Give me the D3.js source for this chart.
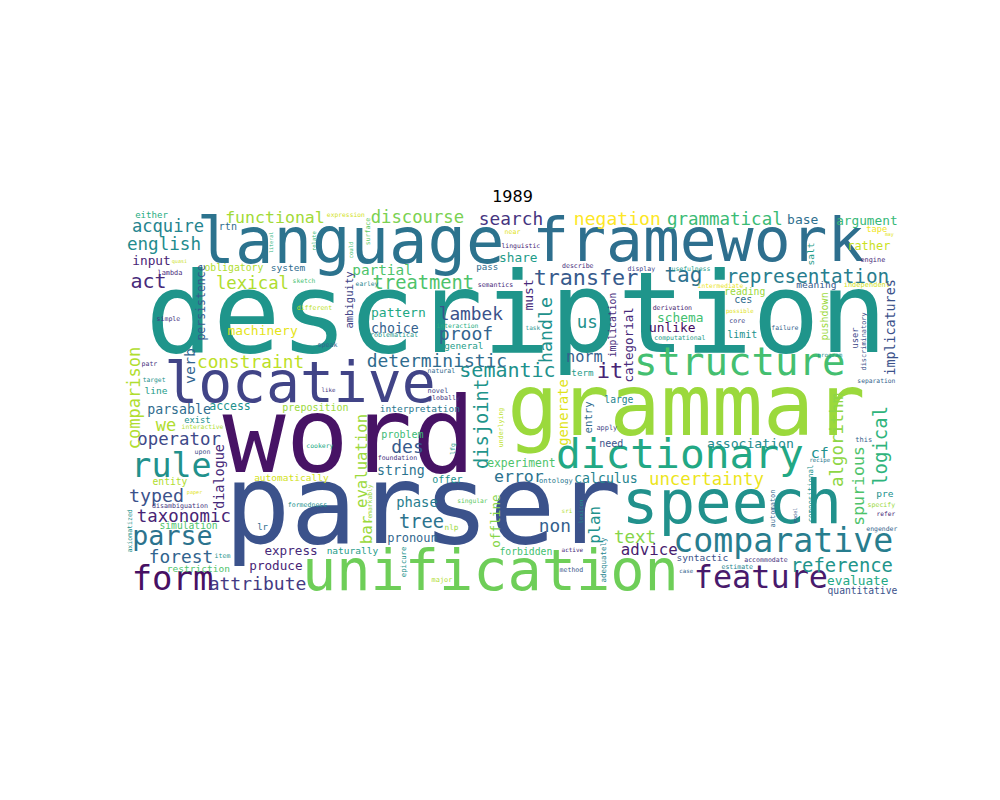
<!DOCTYPE html>
<html>
<head>
<meta charset="utf-8">
<script src="https://cdn.jsdelivr.net/npm/d3@7"></script>
<style>
  body { margin: 0; background: #fff; }
</style>
</head>
<body>
<div id="chart"></div>
<script>
const title = "1989";

// rows: [word, relative frequency, x, y, viridis tone]
// x / y are read off the 400 x 200 word-cloud canvas (horizontal words: centre, baseline)
const bigWords = [
  ["description", 0.974, 202.0, 73.0, 0.52],
  ["parser", 0.957, 153.8, 171.7, 0.25],
  ["word", 0.913, 115.6, 135.1, 0.05],
  ["grammar", 0.739, 289.7, 115.9, 0.85],
  ["language", 0.556, 116.4, 27.2, 0.38],
  ["speech", 0.53, 313.2, 161.4, 0.5],
  ["framework", 0.533, 295.9, 26.2, 0.36],
  ["unification", 0.495, 188.6, 195.9, 0.78],
  ["locative", 0.49, 90.3, 98.9, 0.2],
  ["dictionary", 0.358, 286.4, 133.0, 0.6],
  ["structure", 0.34, 317.3, 85.0, 0.7],
  ["form", 0.295, 24.5, 195.9, 0.04],
  ["rule", 0.29, 24.0, 137.6, 0.5],
  ["comparative", 0.289, 339.8, 176.3, 0.42],
  ["feature", 0.277, 328.2, 195.0, 0.07],
  ["parse", 0.232, 24.5, 172.7, 0.38]
];

const midWords = [
  ["it", 0.191, 250.3, 86.5, 0.1],
  ["transfer", 0.189, 237.9, 38.6, 0.28],
  ["tag", 0.183, 288.2, 37.0, 0.37],
  ["act", 0.174, 12.1, 40.1, 0.12],
  ["semantic", 0.174, 197.4, 86.0, 0.5],
  ["representation", 0.168, 352.4, 37.5, 0.42],
  ["reference", 0.164, 370.0, 186.6, 0.52],
  ["treatment", 0.163, 154.0, 40.6, 0.72],
  ["tree", 0.163, 153.0, 163.9, 0.38],
  ["typed", 0.159, 16.3, 150.6, 0.25],
  ["negation", 0.157, 254.1, 7.6, 1.0],
  ["proof", 0.157, 176.0, 66.9, 0.32],
  ["des", 0.157, 145.8, 125.2, 0.28],
  ["attribute", 0.157, 68.4, 195.9, 0.17],
  ["deterministic", 0.156, 161.0, 80.9, 0.35],
  ["constraint", 0.155, 64.8, 81.4, 0.9],
  ["search", 0.155, 199.2, 7.6, 0.15],
  ["lambek", 0.155, 178.5, 56.7, 0.25],
  ["forest", 0.155, 28.9, 182.0, 0.32],
  ["non", 0.155, 221.9, 166.0, 0.3],
  ["english", 0.153, 20.1, 20.5, 0.48],
  ["us", 0.152, 238.6, 60.7, 0.5],
  ["grammatical", 0.152, 309.6, 7.6, 0.68],
  ["text", 0.152, 263.2, 171.7, 0.82],
  ["lexical", 0.151, 65.8, 40.6, 0.88],
  ["operator", 0.151, 27.9, 121.1, 0.22],
  ["taxonomic", 0.151, 30.4, 160.9, 0.1],
  ["uncertainty", 0.151, 300.1, 141.8, 0.97],
  ["discourse", 0.15, 150.9, 6.6, 0.8],
  ["acquire", 0.149, 22.2, 11.1, 0.45],
  ["we", 0.148, 21.2, 113.9, 0.88],
  ["functional", 0.144, 77.4, 6.7, 0.86],
  ["error", 0.144, 203.3, 140.2, 0.38],
  ["advice", 0.137, 270.6, 177.9, 0.08],
  ["norm", 0.133, 237.1, 78.3, 0.3],
  ["cf", 0.13, 358.6, 127.8, 0.5],
  ["partial", 0.125, 132.9, 33.4, 0.72],
  ["phase", 0.12, 150.7, 153.1, 0.42],
  ["parsable", 0.115, 27.9, 105.1, 0.35],
  ["choice", 0.115, 139.3, 63.3, 0.3],
  ["string", 0.115, 142.4, 136.6, 0.38],
  ["calculus", 0.115, 248.2, 140.7, 0.45],
  ["association", 0.114, 322.8, 122.7, 0.48],
  ["machinery", 0.113, 71.0, 64.4, 0.96],
  ["base", 0.113, 349.8, 7.1, 0.36],
  ["pattern", 0.113, 141.1, 55.1, 0.6],
  ["schema", 0.112, 286.6, 57.6, 0.7],
  ["unlike", 0.112, 282.5, 62.8, 0.03],
  ["input", 0.111, 13.7, 28.3, 0.1],
  ["share", 0.111, 203.0, 26.7, 0.55],
  ["argument", 0.111, 382.9, 7.6, 0.67],
  ["evaluate", 0.111, 378.2, 193.4, 0.6],
  ["express", 0.11, 85.7, 177.9, 0.12],
  ["produce", 0.11, 77.9, 185.6, 0.1],
  ["rather", 0.104, 383.9, 20.5, 0.92],
  ["pronoun", 0.104, 148.4, 171.2, 0.33],
  ["access", 0.1, 54.2, 103.0, 0.5]
];

const smallWords = [
  ["experiment", 0.099, 204.6, 132.5, 0.72],
  ["rtn", 0.087, 53.1, 10.2, 0.35],
  ["ces", 0.087, 319.1, 47.9, 0.35],
  ["limit", 0.087, 318.6, 65.9, 0.5],
  ["preposition", 0.087, 98.3, 103.5, 0.85],
  ["problem", 0.087, 143.2, 117.5, 0.68],
  ["offer", 0.087, 166.4, 140.7, 0.5],
  ["need", 0.087, 251.0, 122.2, 0.25],
  ["obligatory", 0.085, 56.2, 31.3, 0.88],
  ["reading", 0.085, 319.9, 43.7, 0.85],
  ["forbidden", 0.085, 206.9, 177.9, 0.7],
  ["entity", 0.084, 23.2, 141.8, 0.88],
  ["simulation", 0.084, 32.8, 164.5, 0.72],
  ["quantitative", 0.084, 380.6, 198.0, 0.25],
  ["large", 0.084, 254.9, 99.5, 0.45],
  ["system", 0.083, 84.1, 31.3, 0.35],
  ["meaning", 0.083, 356.8, 40.1, 0.28],
  ["line", 0.083, 16.0, 94.8, 0.55],
  ["interpretation", 0.083, 152.2, 104.1, 0.4],
  ["automatically", 0.083, 85.9, 139.7, 0.93],
  ["naturally", 0.083, 117.4, 177.4, 0.55],
  ["restriction", 0.083, 37.9, 186.7, 0.72],
  ["pre", 0.083, 392.2, 148.0, 0.5],
  ["syntactic", 0.083, 298.0, 181.0, 0.25],
  ["general", 0.081, 174.9, 71.6, 0.55],
  ["pass", 0.08, 187.0, 30.8, 0.35],
  ["term", 0.08, 236.1, 85.5, 0.55],
  ["either", 0.079, 13.7, 4.2, 0.62],
  ["lr", 0.078, 71.0, 165.0, 0.35],
  ["tape", 0.076, 388.0, 11.2, 0.98],
  ["exist", 0.076, 37.4, 109.8, 0.5],
  ["nlp", 0.067, 168.5, 165.0, 0.85],
  ["lambda", 0.06, 23.2, 33.4, 0.12],
  ["engine", 0.06, 386.0, 26.7, 0.12],
  ["novel", 0.06, 161.5, 94.3, 0.2],
  ["major", 0.06, 163.6, 191.8, 0.88],
  ["apply", 0.06, 248.7, 113.4, 0.2],
  ["this", 0.061, 381.3, 119.6, 0.3],
  ["independent", 0.061, 382.9, 39.6, 0.93],
  ["ontology", 0.061, 222.4, 140.7, 0.4],
  ["problematical", 0.058, 137.8, 65.4, 0.52],
  ["globally", 0.058, 164.6, 97.9, 0.15],
  ["disambiguation", 0.058, 28.4, 153.6, 0.15],
  ["different", 0.057, 97.8, 51.5, 0.9],
  ["simple", 0.057, 22.4, 57.1, 0.15],
  ["speak", 0.057, 104.5, 70.6, 0.33],
  ["patr", 0.057, 12.6, 80.4, 0.15],
  ["near", 0.057, 200.0, 12.3, 0.95],
  ["describe", 0.057, 233.7, 29.8, 0.13],
  ["display", 0.057, 266.5, 31.3, 0.2],
  ["semantics", 0.057, 191.2, 39.6, 0.12],
  ["natural", 0.057, 163.3, 84.0, 0.35],
  ["derivation", 0.057, 282.5, 51.5, 0.08],
  ["core", 0.057, 316.0, 58.2, 0.2],
  ["computational", 0.057, 286.4, 66.9, 0.55],
  ["upon", 0.057, 40.0, 125.8, 0.25],
  ["formedness", 0.057, 94.2, 153.1, 0.5],
  ["item", 0.057, 50.3, 179.4, 0.52],
  ["foundation", 0.057, 140.6, 128.9, 0.15],
  ["method", 0.057, 230.4, 186.6, 0.27],
  ["specify", 0.057, 390.4, 153.1, 0.85],
  ["accommodate", 0.057, 330.8, 181.5, 0.15],
  ["estimate", 0.057, 316.0, 185.1, 0.45],
  ["linguistic", 0.056, 204.3, 19.5, 0.1],
  ["usefulness", 0.056, 292.1, 31.3, 0.55],
  ["failure", 0.056, 340.6, 61.8, 0.3],
  ["cookery", 0.056, 100.6, 122.7, 0.6],
  ["engender", 0.056, 390.6, 165.5, 0.3],
  ["expression", 0.055, 114.0, 3.6, 0.93],
  ["sketch", 0.055, 92.4, 37.5, 0.7],
  ["earley", 0.055, 124.9, 39.1, 0.45],
  ["target", 0.055, 15.0, 88.6, 0.5],
  ["interaction", 0.055, 171.6, 60.7, 0.62],
  ["intermediate", 0.055, 307.3, 40.1, 0.97],
  ["separation", 0.055, 387.8, 89.1, 0.3],
  ["interactive", 0.055, 40.0, 112.9, 0.88],
  ["singular", 0.055, 179.3, 151.0, 0.75],
  ["refer", 0.054, 392.7, 157.8, 0.12],
  ["task", 0.053, 210.5, 61.8, 0.5],
  ["sri", 0.052, 228.1, 156.2, 0.88],
  ["active", 0.052, 230.9, 176.3, 0.1],
  ["program", 0.051, 363.8, 75.7, 0.52],
  ["like", 0.05, 105.0, 93.8, 0.15],
  ["possible", 0.05, 317.3, 53.0, 0.95],
  ["recipe", 0.05, 358.6, 129.9, 0.4],
  ["case", 0.05, 289.7, 187.2, 0.32],
  ["quasi", 0.045, 28.1, 27.2, 0.92],
  ["paper", 0.045, 35.9, 146.4, 0.95],
  ["may", 0.043, 394.5, 13.3, 0.95]
];

// rotated words: x = baseline, y = centre of the word
const verticalWords = [
  ["disjoint", 0.163, 187.3, 110.3, 0.52],
  ["logical", 0.165, 393.4, 121.6, 0.65],
  ["handle", 0.159, 220.2, 61.8, 0.5],
  ["algorithm", 0.151, 370.5, 118.5, 0.83],
  ["comparison", 0.148, 7.8, 96.9, 0.88],
  ["spurious", 0.144, 381.3, 142.3, 0.72],
  ["bar", 0.139, 127.5, 165.0, 0.85],
  ["plan", 0.137, 245.4, 162.4, 0.5],
  ["evaluation", 0.136, 124.9, 129.4, 0.85],
  ["verb", 0.13, 36.1, 80.4, 0.32],
  ["generate", 0.12, 228.5, 104.4, 0.95],
  ["dialogue", 0.117, 51.1, 137.4, 0.12],
  ["implicatures", 0.116, 397.3, 60.5, 0.25],
  ["must", 0.113, 210.5, 43.7, 0.12],
  ["offline", 0.11, 193.3, 160.4, 0.82],
  ["categorial", 0.109, 262.1, 69.5, 0.12],
  ["persistence", 0.1, 41.3, 47.6, 0.28],
  ["entry", 0.093, 240.9, 106.9, 0.35],
  ["ambiguity", 0.092, 117.6, 46.3, 0.2],
  ["pushdown", 0.087, 362.7, 54.8, 0.85],
  ["implication", 0.085, 253.5, 59.2, 0.13],
  ["salt", 0.083, 355.5, 22.6, 0.55],
  ["user", 0.076, 378.2, 65.9, 0.22],
  ["adequately", 0.065, 248.2, 180.5, 0.45],
  ["compositional", 0.064, 355.0, 146.2, 0.5],
  ["epicure", 0.063, 145.0, 181.5, 0.5],
  ["automaton", 0.061, 335.4, 153.9, 0.33],
  ["discriminatory", 0.06, 382.7, 67.7, 0.25],
  ["surface", 0.057, 126.4, 11.0, 0.75],
  ["underlying", 0.057, 195.0, 112.1, 0.9],
  ["axiomatized", 0.057, 3.6, 165.5, 0.5],
  ["lfg", 0.057, 170.3, 123.2, 0.55],
  ["remarkably", 0.055, 127.5, 151.3, 0.85],
  ["lexicon", 0.049, 236.3, 155.5, 0.5],
  ["could", 0.049, 117.6, 20.5, 0.7],
  ["relate", 0.048, 98.5, 15.9, 0.68],
  ["model", 0.045, 346.8, 157.5, 0.27],
  ["literal", 0.044, 76.4, 16.6, 0.65]
];

const width = 1000;
const height = 800;

const svg = d3.select("#chart")
  .append("svg")
  .attr("width", width)
  .attr("height", height)
  .style("background", "#fff");

// the cloud image sits in the axes box like imshow does
const x = d3.scaleLinear().domain([0, 400]).range([125, 900]);
const y = d3.scaleLinear().domain([0, 200]).range([210.25, 597.75]);
const fontSize = d3.scaleLinear().domain([0, 1]).range([0, 115]);
const tone = t => d3.interpolateViridis(t);

svg.append("text")
  .attr("x", (x(0) + x(400)) / 2)
  .attr("y", y(0) - 8)
  .attr("text-anchor", "middle")
  .style("font-family", "'DejaVu Sans', sans-serif")
  .style("font-size", "16px")
  .attr("fill", "#000")
  .text(title);

const cloud = svg.append("g")
  .style("font-family", "'DejaVu Sans Mono', monospace");

const flat = bigWords.concat(midWords, smallWords);

cloud.selectAll("text.h")
  .data(flat)
  .enter()
  .append("text")
  .attr("class", "h")
  .attr("x", d => x(d[2]))
  .attr("y", d => y(d[3]))
  .attr("text-anchor", "middle")
  .style("font-size", d => fontSize(d[1]) + "px")
  .attr("fill", d => tone(d[4]))
  .text(d => d[0]);

cloud.selectAll("text.v")
  .data(verticalWords)
  .enter()
  .append("text")
  .attr("class", "v")
  .attr("transform", d => `translate(${x(d[2])},${y(d[3])}) rotate(-90)`)
  .attr("text-anchor", "middle")
  .style("font-size", d => fontSize(d[1]) + "px")
  .attr("fill", d => tone(d[4]))
  .text(d => d[0]);
</script>
</body>
</html>
